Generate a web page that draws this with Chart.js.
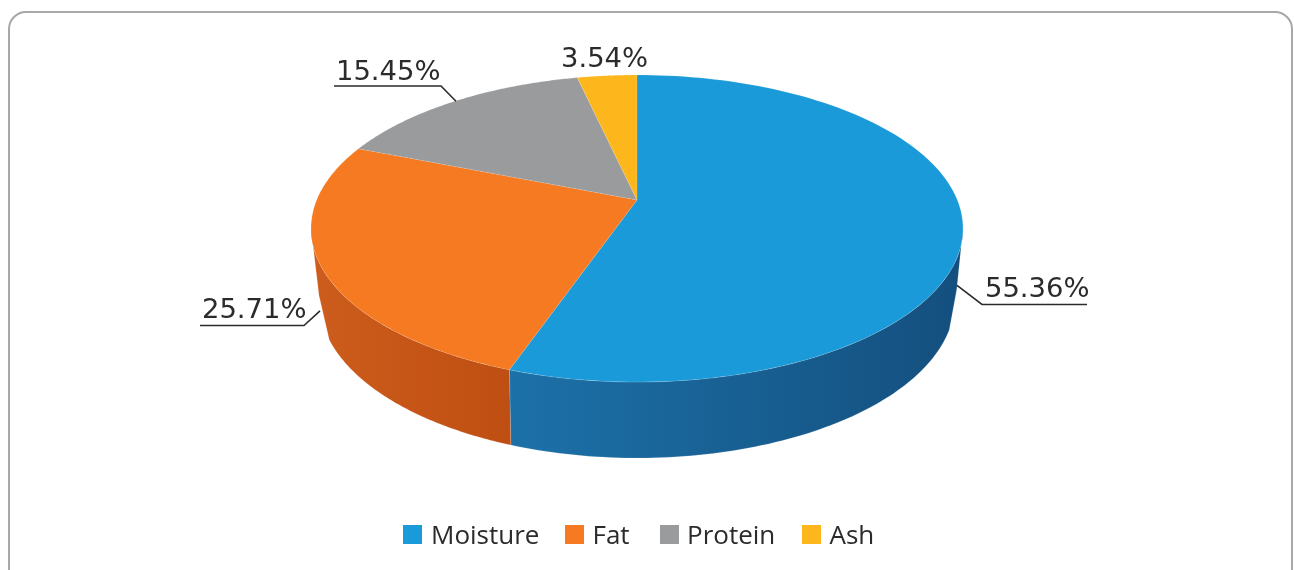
<!DOCTYPE html>
<html>
<head>
<meta charset="utf-8">
<title>Composition</title>
<script src="https://cdn.jsdelivr.net/npm/chart.js@4/dist/chart.umd.min.js"></script>
<style>
html, body { margin: 0; padding: 0; background: #fff; overflow: hidden; }
#wrap { position: relative; width: 1294px; height: 570px; overflow: hidden; }
#frame { position: absolute; left: 8px; top: 11px; width: 1281px; height: 640px; border: 2.5px solid #a7a8aa; border-radius: 18px; }
#chart { position: absolute; left: 0; top: 0; }
#legend { position: absolute; left: 0; top: 515px; width: 1294px; height: 40px; }
.item { position: absolute; top: -1px; font: 26px/40px "Open Sans", sans-serif; color: #2b2a2c; white-space: nowrap; }
.swatch { position: absolute; top: 10px; width: 19px; height: 19px; }
</style>
</head>
<body>
<div id="wrap">
  <div id="frame"></div>
  <canvas id="chart" width="1294" height="570"></canvas>
  <div id="legend"></div>
</div>
<script>
const categories = ["Moisture", "Fat", "Protein", "Ash"]
const percents = [55.36, 25.71, 15.45, 3.54]
const percentLabels = ["55.36%", "25.71%", "15.45%", "3.54%"]
const topColors = ["#1a9ad9", "#f57a21", "#9a9b9d", "#fdb71d"]

// legend placement, left of each swatch / text
const swatchLefts = [403, 565, 660, 802]
const textLefts = [431, 592.5, 687, 829.5]

// side wall shading, left colour then right colour
const sideShades = [["#1c71a9", "#144f7e"], ["#cd5d1c", "#bf4e12"], null, null]

// the pie is a tilted disc: unit circle -> picture through a perspective map
const topDisc = { cx: 637, k: 320.3, a: 111.07, b: 200, c: -0.1857 }
const lowDisc = { cx: 637, k: 311.6, a: 98, b: 268.4, c: -0.2 }

// where the wall leaves the top rim and where it meets the lower rim
const topRimFrom = Math.asin(0.1857), topRimTo = Math.PI - topRimFrom
const lowRimFrom = Math.asin(0.3756), lowRimTo = Math.PI - Math.asin(0.4313)

function project(disc, angle) {
    const u = Math.cos(angle), v = Math.sin(angle)
    const w = 1 + disc.c * v
    return { x: disc.cx + disc.k * u / w, y: (disc.b + disc.a * v) / w }
}

function rimPoints(disc, from, to, steps) {
    const pts = []
    for (let s = 0; s <= steps; s++) {
        pts.push(project(disc, from + (to - from) * s / steps))
    }
    return pts
}

// the outer wall edge is not quite straight, push it out a little
function edgeBulge(a, b, push) {
    return { x: a.x + (b.x - a.x) * 0.6 + push, y: a.y + (b.y - a.y) * 0.6 }
}

// label layout: text left, baseline, underline start/end, extra drop of the leader tip
const labelSpots = [
    { x: 985, y: 297, lineFrom: 1087, lineTo: 982, lineY: 304.5, tipX: 957, tipDrop: 60 },
    { x: 202, y: 318, lineFrom: 200, lineTo: 304, lineY: 325.5, tipX: 320, tipDrop: 44 },
    { x: 336, y: 80, lineFrom: 334, lineTo: 441, lineY: 86, tipX: 456, tipDrop: 0 },
    { x: 561, y: 67 }
]

const tilted = {
    id: "tilted",
    beforeDatasetsDraw(chart) {
        const ctx = chart.ctx
        const arcs = chart.getDatasetMeta(0).data

        arcs.forEach((arc, i) => {
            if (!sideShades[i]) return
            const upper = rimPoints(topDisc, Math.max(arc.startAngle, topRimFrom), Math.min(arc.endAngle, topRimTo), 80)
            const lower = rimPoints(lowDisc, Math.max(arc.startAngle, lowRimFrom), Math.min(arc.endAngle, lowRimTo), 80)
            const xs = upper.concat(lower).map(p => p.x)
            const grad = ctx.createLinearGradient(Math.min(...xs), 0, Math.max(...xs), 0)
            grad.addColorStop(0, sideShades[i][0])
            grad.addColorStop(1, sideShades[i][1])
            const uEnd = upper[upper.length - 1], lEnd = lower[lower.length - 1]
            ctx.beginPath()
            upper.forEach((p, n) => n ? ctx.lineTo(p.x, p.y) : ctx.moveTo(p.x, p.y))
            if (arc.endAngle > topRimTo) {
                const b = edgeBulge(uEnd, lEnd, -3)
                ctx.lineTo(b.x, b.y)
            }
            lower.slice().reverse().forEach(p => ctx.lineTo(p.x, p.y))
            if (arc.startAngle < topRimFrom) {
                const b = edgeBulge(upper[0], lower[0], 2)
                ctx.lineTo(b.x, b.y)
            }
            ctx.closePath()
            ctx.fillStyle = grad
            ctx.fill()
            ctx.strokeStyle = "rgba(255,255,255,0.2)"
            ctx.lineWidth = 0.7
            ctx.stroke()
        })

        arcs.forEach((arc, i) => {
            ctx.beginPath()
            ctx.moveTo(topDisc.cx, topDisc.b)
            rimPoints(topDisc, arc.startAngle, arc.endAngle, 120).forEach(p => ctx.lineTo(p.x, p.y))
            ctx.closePath()
            ctx.fillStyle = topColors[i]
            ctx.fill()
            ctx.strokeStyle = "rgba(255,255,255,0.15)"
            ctx.lineWidth = 0.7
            ctx.stroke()
        })
        return false
    },
    afterDraw(chart) {
        const ctx = chart.ctx
        const arcs = chart.getDatasetMeta(0).data
        ctx.save()
        ctx.font = '27.4px "DejaVu Sans"'
        ctx.textBaseline = "alphabetic"
        ctx.textAlign = "left"
        arcs.forEach((arc, i) => {
            const spot = labelSpots[i]
            ctx.fillStyle = "#2b2a2c"
            ctx.fillText(percentLabels[i], spot.x, spot.y)
            if (spot.lineY === undefined) return
            const mid = project(topDisc, (arc.startAngle + arc.endAngle) / 2)
            ctx.beginPath()
            ctx.moveTo(spot.lineFrom, spot.lineY)
            ctx.lineTo(spot.lineTo, spot.lineY)
            ctx.lineTo(spot.tipX, mid.y + spot.tipDrop)
            ctx.strokeStyle = "#2b2a2c"
            ctx.lineWidth = 1.6
            ctx.stroke()
        })
        ctx.restore()
    }
}

new Chart(document.getElementById("chart"), {
    type: "pie",
    data: {
        labels: categories,
        datasets: [{ data: percents, backgroundColor: topColors }]
    },
    options: {
        responsive: false,
        animation: false,
        plugins: { legend: { display: false }, tooltip: { enabled: false } }
    },
    plugins: [tilted]
})

const $legend = document.getElementById("legend")
categories.forEach((name, i) => {
    const box = document.createElement("div")
    box.className = "swatch"
    box.style.left = swatchLefts[i] + "px"
    box.style.background = topColors[i]
    $legend.appendChild(box)
    const text = document.createElement("div")
    text.className = "item"
    text.style.left = textLefts[i] + "px"
    text.textContent = name
    $legend.appendChild(text)
})
</script>
</body>
</html>
